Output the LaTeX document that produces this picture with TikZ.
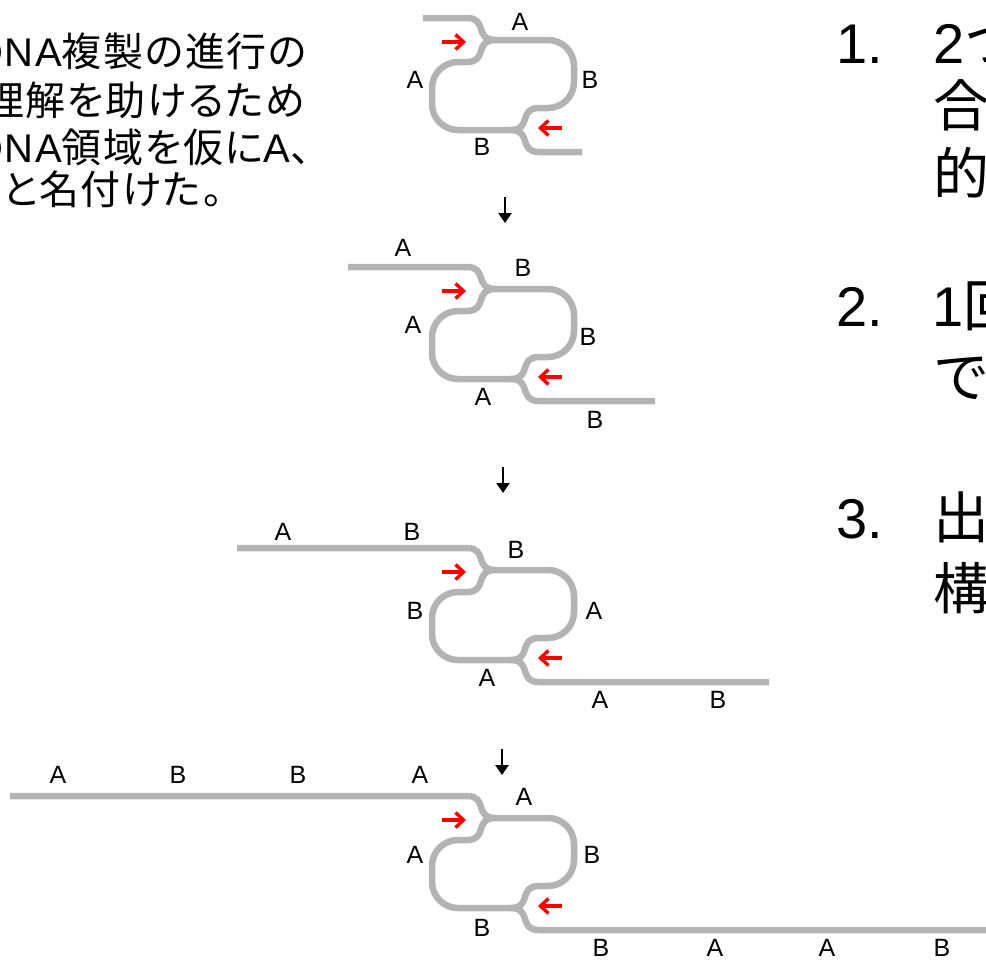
\documentclass[tikz,border=0pt]{standalone}
\usepackage{fontspec}
\setmainfont{Liberation Sans}
\newfontfamily\jpfont{Noto Sans CJK JP}
\newfontfamily\jpnote[RawFeature={+palt}, LetterSpace=4]{Noto Sans CJK JP}
\newfontfamily\latnote[LetterSpace=4]{Liberation Sans}
\usetikzlibrary{arrows.meta}

\definecolor{strandgray}{RGB}{179,179,179}

\tikzset{
  strand/.style={draw=strandgray, line width=6.5pt},
  primer/.style={draw=red, line width=3.4pt, -{Straight Barb[length=8pt,width=15pt]}},
  nextstep/.style={draw=black, line width=2.4pt, -{Triangle[length=10pt,width=13pt]}},
  seg/.style={font=\fontsize{25}{25}\selectfont, inner sep=0pt},
  notetext/.style={font=\fontsize{40}{40}\selectfont\latnote, inner sep=0pt, anchor=base west},
  itemtext/.style={font=\fontsize{56}{56}\selectfont, inner sep=0pt, anchor=base west},
}

\begin{document}
\begin{tikzpicture}[x=1pt, y=1pt]
\useasboundingbox (0,0) rectangle (986,-962);
\clip (0,0) rectangle (986,-962);

% Replikationsblasen: Mitte-y / linker Schwanz / rechter Schwanz
\foreach \cy/\lt/\rt in {85/80/79, 334/155/152, 615/266/266, 863/493/520}{
  \begin{scope}[shift={(503,-\cy)}]
    % Blase
    \draw[strand] (-8,45) -- (45,45) arc[start angle=90, end angle=0, radius=26pt]
      -- (71,3) arc[start angle=0, end angle=-90, radius=26pt]
      -- (36,-23) to[out=180, in=0, looseness=1.5] (8,-45)
      -- (-45,-45) arc[start angle=270, end angle=180, radius=26pt]
      -- (-71,-3) arc[start angle=180, end angle=90, radius=26pt]
      -- (-36,23) to[out=0, in=180, looseness=1.5] (-8,45);
    % Schwaenze
    \draw[strand] (-\lt,67) -- (-36,67) to[out=0, in=180, looseness=1.5] (-8,45);
    \draw[strand] (8,-45) to[out=0, in=180, looseness=1.5] (36,-67) -- (\rt,-67);
    % Primer
    \draw[primer] (-61,43) -- (-37,43);
    \draw[primer] (59,-43) -- (35,-43);
  \end{scope}
}

% Pfeile zwischen den Schritten
\coordinate (d1) at (505,-197);
\coordinate (d2) at (503,-467);
\coordinate (d3) at (502,-749);
\draw[nextstep] (d1) -- ++(0,-26);
\draw[nextstep] (d2) -- ++(0,-26);
\draw[nextstep] (d3) -- ++(0,-26);

% Bereiche A / B
\foreach \x/\y/\t [count=\i] in {
  520/22/A, 415/80/A, 590/80/B, 482/147/B,
  403/248/A, 523/268/B, 413/325/A, 588/337/B, 483/397/A, 595/420/B,
  283/532/A, 412/532/B, 516/550/B, 415/611/B, 594/611/A, 487/678/A, 600/700/A, 718/700/B,
  58/775/A, 178/775/B, 298/775/B, 420/775/A, 524/797/A, 415/855/A, 592/855/B, 482/928/B,
  601/948/B, 715/948/A, 827/948/A, 942/948/B}
  \node[seg] (lab\i) at (\x,-\y) {\t};

% Text links
\node[notetext] (n1) at (-26,-66) {DNA{\jpnote 複製の進行の}};
\node[notetext] (n2) at (-16,-115) {\jpnote 理解を助けるため};
\node[notetext] (n3) at (-26,-162) {DNA{\jpnote 領域を仮に}A{\jpnote 、}};
\node[notetext] (n4) at (2,-204) {\jpnote と名付けた。};

% Text rechts
\node[itemtext] (i1) at (836,-63) {1.};
\node[itemtext] (i1a) at (933,-63) {2{\jpfont つ}};
\node[itemtext] (i1b) at (933,-126) {\jpfont 合};
\node[itemtext] (i1c) at (933,-194) {\jpfont 的};
\node[itemtext] (i2) at (836,-326) {2.};
\node[itemtext] (i2a) at (932,-326) {1{\jpfont 回}};
\node[itemtext] (i2b) at (933,-397) {\jpfont で};
\node[itemtext] (i3) at (836,-538) {3.};
\node[itemtext] (i3a) at (933,-538) {\jpfont 出};
\node[itemtext] (i3b) at (933,-609) {\jpfont 構};
\end{tikzpicture}
\end{document}
